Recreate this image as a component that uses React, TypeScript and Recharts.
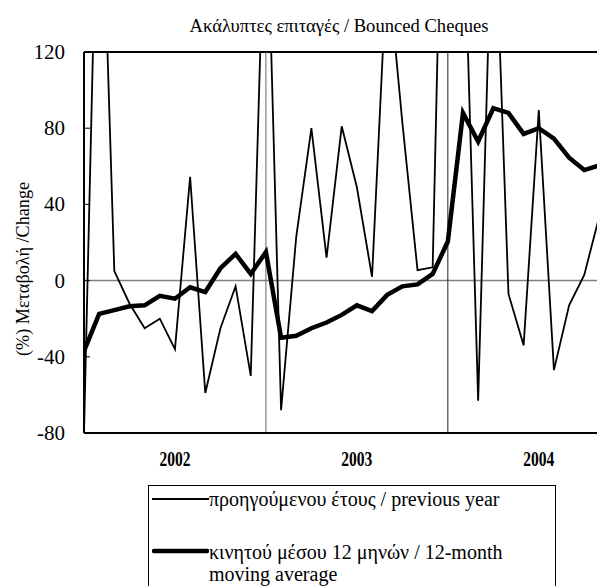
import { LineChart, Line, XAxis, YAxis, ReferenceLine } from "recharts";

// month index 0 = first month shown (left edge), 12 = first month of 2003, 24 = first month of 2004
const monthIndex = Array.from({ length: 35 }, (_, i) => i);

// % change on previous year (thin line)
const previousYear = [
  -80, 260, 5, -12, -25, -20, -36, 54.5, -59, -25, -3, -50, 222, -68, 23, 80, 12, 81,
  49, 2, 168, 83, 5.5, 7, 360, 210, -63, 220, -7, -34, 89.5, -47, -13, 3, 34,
];

// 12-month moving average (thick line)
const movingAverage = [
  -37, -17.5, -15.5, -13.5, -13, -8, -9.5, -3.5, -6, 6.5, 14, 3.5, 15, -30, -29, -25,
  -22, -18, -13, -16, -7.5, -3, -2, 3.5, 20.5, 88, 73, 90.5, 88, 77, 80, 74.5, 64.5, 58,
  60.5,
];

const yearTicks = [6, 18, 30];
const yearLabels = ["2002", "2003", "2004"];
const yTicks = [-80, -40, 0, 40, 80, 120];

const data = monthIndex.map((i) => ({
  i,
  prev: previousYear[i],
  avg: movingAverage[i],
}));

const serif = "'Liberation Serif', 'Times New Roman', serif";

function YTick(props: any) {
  const { x, y, payload } = props;
  return (
    <g>
      <line x1={x + 8} x2={x + 14} y1={y} y2={y} stroke="#000" strokeWidth={1} />
      <text x={x - 11} y={y} dy={7} textAnchor="end" fontSize={21} fontFamily={serif} fill="#000">
        {payload.value}
      </text>
    </g>
  );
}

function YearTick(props: any) {
  const { x, y, payload } = props;
  const label = yearLabels[yearTicks.indexOf(payload.value)];
  return (
    <text
      x={x}
      y={y + 25}
      textAnchor="middle"
      fontSize={20}
      fontWeight="bold"
      fontFamily={serif}
      textLength={31}
      lengthAdjust="spacingAndGlyphs"
      fill="#000"
    >
      {label}
    </text>
  );
}

export default function App() {
  return (
    <div
      style={{
        position: "absolute",
        left: 0,
        top: 0,
        width: 597,
        height: 586,
        background: "#fff",
        fontFamily: serif,
        overflow: "hidden",
      }}
    >
      <div
        style={{
          position: "absolute",
          left: 0,
          width: 678,
          top: 15,
          fontSize: 18.6,
          lineHeight: "21px",
          textAlign: "center",
          color: "#000",
        }}
      >
        Ακάλυπτες επιταγές / Bounced Cheques
      </div>
      <div
        style={{
          position: "absolute",
          left: 23,
          top: 269,
          transform: "translate(-50%, -50%) rotate(-90deg)",
          fontSize: 18.2,
          whiteSpace: "nowrap",
          color: "#000",
        }}
      >
        (%) Μεταβολή /Change
      </div>
      <LineChart
        width={597}
        height={586}
        data={data}
        margin={{ top: 52, right: 0, bottom: 123, left: 0 }}
      >
        <XAxis
          type="number"
          dataKey="i"
          domain={[0, 33.84]}
          allowDataOverflow
          ticks={yearTicks}
          tick={<YearTick />}
          tickLine={false}
          height={30}
          axisLine={{ stroke: "#000", strokeWidth: 2 }}
        />
        <YAxis
          type="number"
          domain={[-80, 120]}
          allowDataOverflow
          ticks={yTicks}
          tick={<YTick />}
          tickLine={false}
          width={84}
          axisLine={{ stroke: "#000", strokeWidth: 2 }}
        />
        <ReferenceLine y={0} stroke="#808080" strokeWidth={1.5} />
        <ReferenceLine y={120} stroke="#000" strokeWidth={2} />
        <ReferenceLine x={12} stroke="#666" strokeWidth={1} />
        <ReferenceLine x={24} stroke="#222" strokeWidth={1} />
        <Line
          type="linear"
          dataKey="prev"
          stroke="#000"
          strokeWidth={1.8}
          dot={false}
          isAnimationActive={false}
        />
        <Line
          type="linear"
          dataKey="avg"
          stroke="#000"
          strokeWidth={4.5}
          dot={false}
          isAnimationActive={false}
        />
      </LineChart>
      <div
        style={{
          position: "absolute",
          left: 148,
          top: 485,
          width: 408,
          height: 120,
          border: "1px solid #000",
          boxSizing: "border-box",
          fontSize: 20,
          color: "#000",
        }}
      >
        <div style={{ position: "absolute", left: 3, top: 2, display: "flex" }}>
          <svg width={57} height={6} style={{ marginTop: 8, flexShrink: 0 }}>
            <line x1={0} x2={57} y1={3} y2={3} stroke="#000" strokeWidth={1.8} />
          </svg>
          <span style={{ lineHeight: "22px", whiteSpace: "nowrap" }}>
            προηγούμενου έτους / previous year
          </span>
        </div>
        <div style={{ position: "absolute", left: 3, top: 55, display: "flex" }}>
          <svg width={57} height={8} style={{ marginTop: 6, flexShrink: 0 }}>
            <line x1={2} x2={55} y1={4} y2={4} stroke="#000" strokeWidth={4.5} strokeLinecap="round" />
          </svg>
          <span style={{ lineHeight: "22px", width: 340 }}>
            κινητού μέσου 12 μηνών / 12-month moving average
          </span>
        </div>
      </div>
    </div>
  );
}
